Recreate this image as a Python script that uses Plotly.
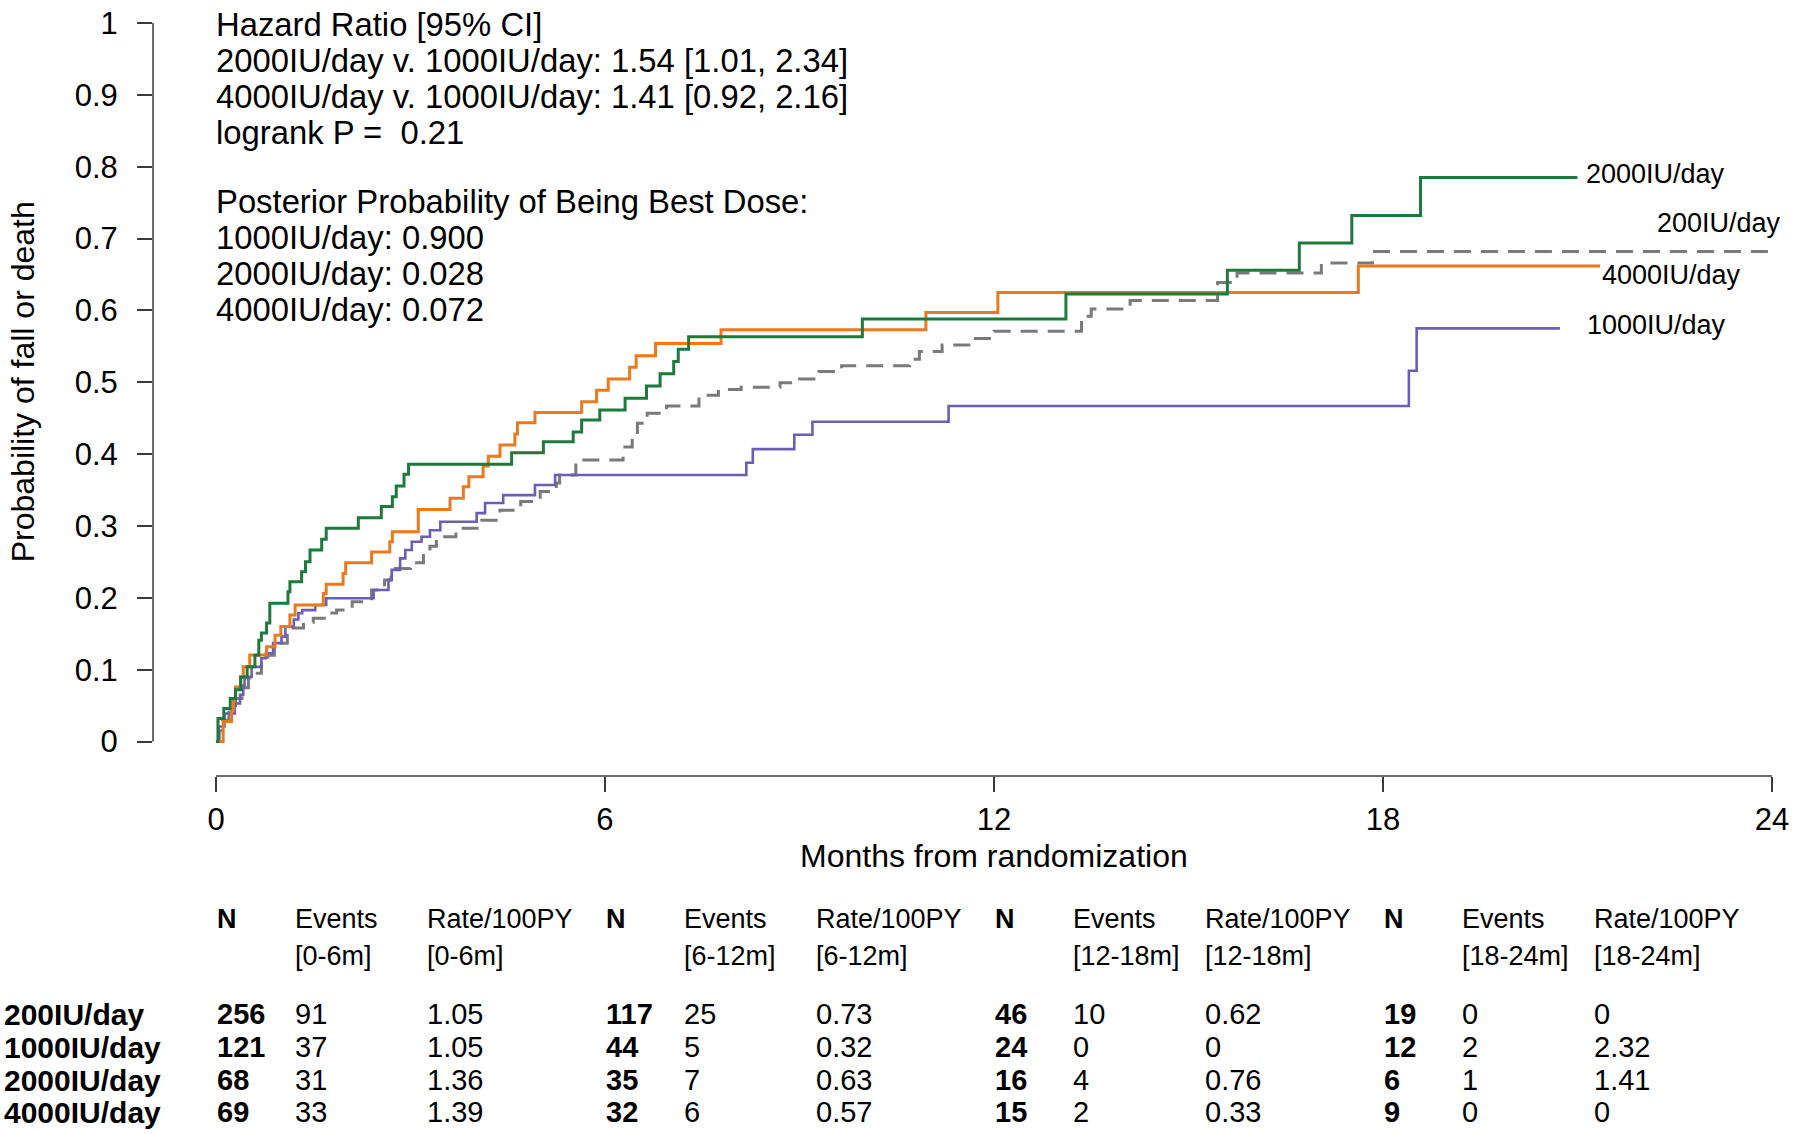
import plotly.graph_objects as go

FONT = "Liberation Sans, Arial, Helvetica, sans-serif"

# ---------------- curve data (months, cumulative probability) ----------------
t_200 = [0, 0.05, 0.1, 0.2, 0.3, 0.4, 0.5, 0.57, 0.7, 0.8, 0.9, 1.0, 1.1, 1.14, 1.35, 1.5,
         1.75, 1.86, 2.1, 2.4, 2.6, 2.7, 3.0, 3.2, 3.3, 3.4, 3.7, 4.1, 4.38, 4.7, 5.0, 5.25,
         5.3, 5.55, 6.28, 6.42, 6.5, 6.65, 6.95, 7.45, 7.75, 8.1, 8.7, 9.0, 9.3, 9.65, 10.7,
         10.85, 11.2, 11.65, 12.0, 13.35, 13.5, 14.1, 15.45, 15.75, 17.05, 17.84, 24.0]
p_200 = [0, 0.015, 0.03, 0.045, 0.06, 0.075, 0.088, 0.095, 0.11, 0.12, 0.128, 0.137, 0.15,
         0.158, 0.166, 0.1715, 0.179, 0.183, 0.1947, 0.211, 0.225, 0.241, 0.249, 0.262, 0.272,
         0.285, 0.297, 0.308, 0.322, 0.334, 0.348, 0.36, 0.371, 0.392, 0.41, 0.427, 0.443,
         0.457, 0.467, 0.482, 0.490, 0.493, 0.4995, 0.5046, 0.515, 0.523, 0.532, 0.543, 0.552,
         0.561, 0.571, 0.592, 0.602, 0.614, 0.639, 0.652, 0.666, 0.682, 0.682]

t_1000 = [0, 0.04, 0.13, 0.29, 0.37, 0.42, 0.44, 0.55, 0.70, 0.77, 0.88, 1.01, 1.07, 1.2,
          1.27, 1.33, 1.53, 1.70, 2.43, 2.66, 2.71, 2.84, 2.92, 3.02, 3.17, 3.3, 3.46, 4.02,
          4.15, 4.43, 4.92, 5.23, 8.18, 8.28, 8.92, 9.2, 11.3, 18.4, 18.52, 20.73]
p_1000 = [0, 0.021, 0.039, 0.053, 0.065, 0.078, 0.09, 0.104, 0.116, 0.123, 0.137, 0.146,
          0.16, 0.17, 0.1785, 0.183, 0.19, 0.1994, 0.211, 0.225, 0.239, 0.255, 0.2666, 0.278,
          0.285, 0.294, 0.306, 0.318, 0.332, 0.343, 0.357, 0.371, 0.388, 0.407, 0.427, 0.445,
          0.467, 0.516, 0.575, 0.575]

t_2000 = [0, 0.03, 0.12, 0.22, 0.3, 0.38, 0.48, 0.6, 0.66, 0.7, 0.78, 0.83, 1.11, 1.14, 1.32,
          1.38, 1.45, 1.63, 1.70, 2.195, 2.55, 2.72, 2.78, 2.90, 2.97, 4.56, 5.05, 5.51, 5.64,
          5.92, 6.31, 6.64, 6.85, 7.06, 7.13, 7.29, 9.97, 13.11, 15.6, 16.71, 17.52, 18.58, 21.0]
p_2000 = [0, 0.032, 0.046, 0.06, 0.072, 0.09, 0.104, 0.12, 0.141, 0.151, 0.165, 0.1925,
          0.2086, 0.2225, 0.2364, 0.2503, 0.2666, 0.2815, 0.2968, 0.3116, 0.327, 0.3408,
          0.3557, 0.372, 0.3859, 0.402, 0.4173, 0.431, 0.4475, 0.4614, 0.4777, 0.495, 0.512,
          0.529, 0.546, 0.5635, 0.588, 0.623, 0.656, 0.694, 0.732, 0.785, 0.785]

t_4000 = [0, 0.11, 0.24, 0.27, 0.3, 0.38, 0.42, 0.52, 0.78, 0.91, 1.0, 1.14, 1.22, 1.655, 1.7,
          1.96, 2.0, 2.40, 2.68, 2.72, 3.12, 3.61, 3.815, 3.9, 4.12, 4.2, 4.38, 4.61, 4.65, 4.92,
          5.64, 5.87, 6.05, 6.38, 6.48, 6.78, 7.79, 10.95, 12.06, 17.62, 21.35]
p_4000 = [0, 0.028, 0.045, 0.06, 0.076, 0.09, 0.104, 0.1205, 0.132, 0.148, 0.16, 0.176, 0.19,
          0.206, 0.219, 0.234, 0.249, 0.264, 0.278, 0.292, 0.323, 0.3385, 0.3547, 0.3686,
          0.3835, 0.397, 0.4127, 0.428, 0.4438, 0.458, 0.473, 0.489, 0.5046, 0.521, 0.537,
          0.554, 0.573, 0.597, 0.625, 0.662, 0.662]

# ---------------- table data ----------------
groups = ["200IU/day", "1000IU/day", "2000IU/day", "4000IU/day"]
period_starts = [0, 6, 12, 18]
period_labels = ["[0-6m]", "[6-12m]", "[12-18m]", "[18-24m]"]
n_200 = [256, 117, 46, 19]
n_1000 = [121, 44, 24, 12]
n_2000 = [68, 35, 16, 6]
n_4000 = [69, 32, 15, 9]
ev_200 = [91, 25, 10, 0]
ev_1000 = [37, 5, 0, 2]
ev_2000 = [31, 7, 4, 1]
ev_4000 = [33, 6, 2, 0]
rate_200 = [1.05, 0.73, 0.62, 0]
rate_1000 = [1.05, 0.32, 0, 2.32]
rate_2000 = [1.36, 0.63, 0.76, 1.41]
rate_4000 = [1.39, 0.57, 0.33, 0]

x_ticks = [0, 6, 12, 18, 24]
y_ticks = [0, 0.1, 0.2, 0.3, 0.4, 0.5, 0.6, 0.7, 0.8, 0.9, 1]
y_tick_labels = ["0", "0.1", "0.2", "0.3", "0.4", "0.5", "0.6", "0.7", "0.8", "0.9", "1"]

hr_lines = ["Hazard Ratio [95% CI]",
            "2000IU/day v. 1000IU/day: 1.54 [1.01, 2.34]",
            "4000IU/day v. 1000IU/day: 1.41 [0.92, 2.16]",
            "logrank P =\u00a0 0.21"]
post_lines = ["Posterior Probability of Being Best Dose:",
              "1000IU/day: 0.900",
              "2000IU/day: 0.028",
              "4000IU/day: 0.072"]

# ---------------- geometry (window pixels; body margin removed below) ----------------
W, H = 1800, 1134
ML, MR, MT, MB = 153, 10, 8, 358
PH = H - MT - MB          # 768
PW = W - ML - MR          # 1637


def py2paper(py):
    return (H - MB - py) / PH


def px2paper(px):
    return (px - ML) / PW


fig = go.Figure()

series = [
    ("200IU/day", t_200, p_200, dict(color="#7a7a7a", width=3, dash="17px,10px")),
    ("1000IU/day", t_1000, p_1000, dict(color="#6b5fb5", width=2.6)),
    ("4000IU/day", t_4000, p_4000, dict(color="#ec7a1c", width=3)),
    ("2000IU/day", t_2000, p_2000, dict(color="#1d7a3c", width=3)),
]
for name, t, p, ln in series:
    fig.add_trace(go.Scatter(x=t, y=p, mode="lines", name=name, line=dict(shape="hv", **ln),
                             showlegend=False, hoverinfo="skip"))

axis_color = "#3a3a3a"
fig.update_xaxes(range=[-0.972, 24.279], tickvals=x_ticks, ticktext=[str(v) for v in x_ticks],
                 ticks="outside", ticklen=15, tickwidth=1.5, tickcolor=axis_color,
                 showline=False, showgrid=False, zeroline=False, ticklabeloverflow="allow",
                 tickfont=dict(family=FONT, size=31, color="black"), ticklabelstandoff=1)
fig.update_yaxes(range=[-0.0479, 1.0209], tickvals=y_ticks, ticktext=y_tick_labels,
                 ticks="outside", ticklen=15, tickwidth=1.5, tickcolor=axis_color,
                 showline=False, showgrid=False, zeroline=False, ticklabeloverflow="allow",
                 tickfont=dict(family=FONT, size=31, color="black"), ticklabelstandoff=13)

# R-style axis lines spanning first to last tick
fig.add_shape(type="line", xref="x", yref="paper", x0=x_ticks[0], x1=x_ticks[-1], y0=0, y1=0,
              line=dict(color=axis_color, width=1.5))
fig.add_shape(type="line", xref="paper", yref="y", x0=0, x1=0, y0=y_ticks[0], y1=y_ticks[-1],
              line=dict(color=axis_color, width=1.5))

ann = []
# axis titles
ann.append(dict(text="Months from randomization", xref="x", yref="paper", x=12, y=py2paper(856),
                xanchor="center", yanchor="middle", showarrow=False,
                font=dict(family=FONT, size=32, color="black")))
ann.append(dict(text="Probability of fall or death", xref="paper", yref="y", x=px2paper(23), y=0.5,
                xanchor="center", yanchor="middle", textangle=-90, showarrow=False,
                font=dict(family=FONT, size=32, color="black")))

# statistics text block
for i, s in enumerate(hr_lines):
    ann.append(dict(text=s, xref="x", yref="paper", x=0, y=py2paper(25 + i * 35.7),
                    xanchor="left", yanchor="middle", showarrow=False, xshift=-2,
                    font=dict(family=FONT, size=32.8, color="black")))
for i, s in enumerate(post_lines):
    ann.append(dict(text=s, xref="x", yref="paper", x=0, y=py2paper(202 + i * 35.7),
                    xanchor="left", yanchor="middle", showarrow=False, xshift=-2,
                    font=dict(family=FONT, size=32.8, color="black")))

# curve-end labels
end_labels = [("2000IU/day", 21.1, 0.79), ("200IU/day", 22.2, 0.722),
              ("4000IU/day", 21.35, 0.649), ("1000IU/day", 21.12, 0.58)]
for s, x, y in end_labels:
    ann.append(dict(text=s, xref="x", yref="y", x=x, y=y, xanchor="left", yanchor="middle",
                    showarrow=False, font=dict(family=FONT, size=27, color="black")))

# table headers
for ps, pl in zip(period_starts, period_labels):
    ann.append(dict(text="<b>N</b>", xref="x", yref="paper", x=ps, y=py2paper(919),
                    xanchor="left", yanchor="middle", showarrow=False, xshift=-1,
                    font=dict(family=FONT, size=27, color="black")))
    for off, head in ((77, "Events"), (209, "Rate/100PY")):
        ann.append(dict(text=head, xref="x", yref="paper", x=ps, y=py2paper(919),
                        xanchor="left", yanchor="middle", showarrow=False, xshift=off,
                        font=dict(family=FONT, size=27, color="black")))
        ann.append(dict(text=pl, xref="x", yref="paper", x=ps, y=py2paper(956),
                        xanchor="left", yanchor="middle", showarrow=False, xshift=off,
                        font=dict(family=FONT, size=27, color="black")))

# table body
row_n = [n_200, n_1000, n_2000, n_4000]
row_ev = [ev_200, ev_1000, ev_2000, ev_4000]
row_rate = [rate_200, rate_1000, rate_2000, rate_4000]
row_y = [1014, 1047, 1080, 1112]
for g, ns, evs, rates, ry in zip(groups, row_n, row_ev, row_rate, row_y):
    ann.append(dict(text=f"<b>{g}</b>", xref="paper", yref="paper", x=px2paper(2), y=py2paper(ry),
                    xanchor="left", yanchor="middle", showarrow=False,
                    font=dict(family=FONT, size=30, color="black")))
    for ps, n, e, r in zip(period_starts, ns, evs, rates):
        ann.append(dict(text=f"<b>{n}</b>", xref="x", yref="paper", x=ps, y=py2paper(ry),
                        xanchor="left", yanchor="middle", showarrow=False, xshift=-1,
                        font=dict(family=FONT, size=29, color="black")))
        ann.append(dict(text=str(e), xref="x", yref="paper", x=ps, y=py2paper(ry),
                        xanchor="left", yanchor="middle", showarrow=False, xshift=77,
                        font=dict(family=FONT, size=29, color="black")))
        ann.append(dict(text=f"{r:g}", xref="x", yref="paper", x=ps, y=py2paper(ry),
                        xanchor="left", yanchor="middle", showarrow=False, xshift=209,
                        font=dict(family=FONT, size=29, color="black")))

fig.update_layout(width=W, height=H, margin=dict(l=ML, r=MR, t=MT, b=MB, autoexpand=False),
                  paper_bgcolor="white", plot_bgcolor="white", annotations=ann,
                  font=dict(family=FONT, color="black"))

fig.write_html("out.html", config={"displayModeBar": False},
               post_script="document.body.style.margin='0';document.body.style.overflow='hidden';")
